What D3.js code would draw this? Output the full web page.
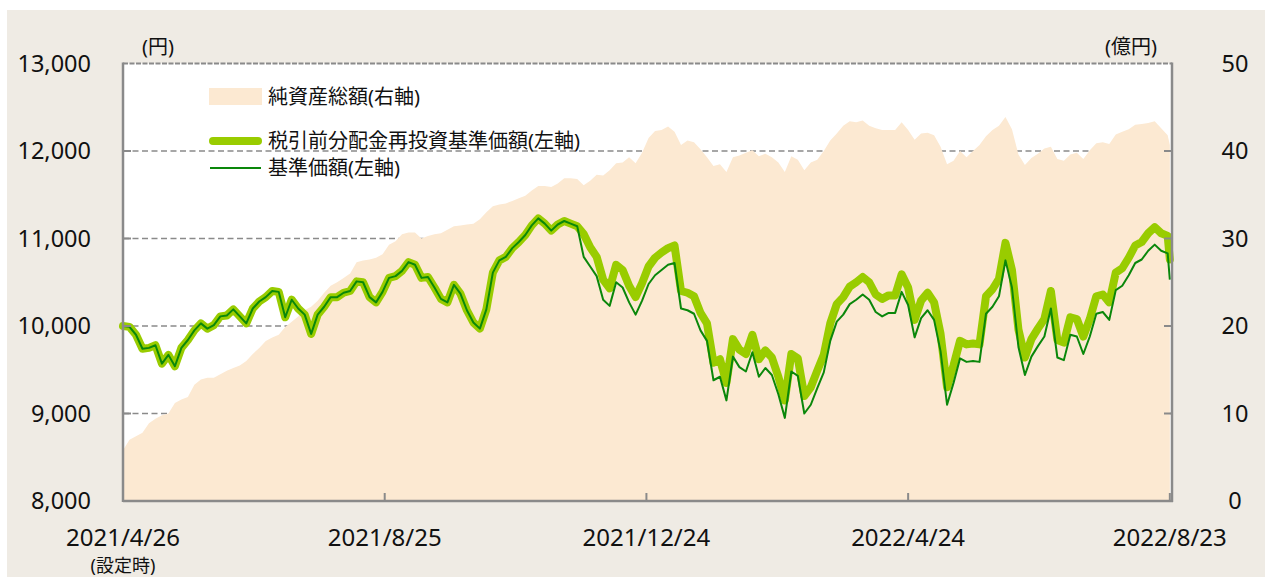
<!DOCTYPE html>
<html><head><meta charset="utf-8">
<script src="https://cdn.jsdelivr.net/npm/d3@7"></script>
<style>
html,body{margin:0;padding:0;background:#fff;}
svg{display:block;font-family:"Noto Sans","Noto Sans CJK JP",sans-serif;}
</style></head>
<body>
<svg id="chart" width="1276" height="577"></svg>
<script>
const dates = [
"2021-04-26","2021-04-29","2021-05-02","2021-05-05","2021-05-08","2021-05-11","2021-05-14","2021-05-17","2021-05-20","2021-05-23","2021-05-26","2021-05-29",
"2021-06-01","2021-06-04","2021-06-07","2021-06-10","2021-06-13","2021-06-16","2021-06-19","2021-06-22","2021-06-25","2021-06-28",
"2021-07-01","2021-07-04","2021-07-07","2021-07-10","2021-07-13","2021-07-16","2021-07-19","2021-07-22","2021-07-25","2021-07-28","2021-07-31",
"2021-08-03","2021-08-06","2021-08-09","2021-08-12","2021-08-15","2021-08-18","2021-08-21","2021-08-24","2021-08-27","2021-08-30",
"2021-09-02","2021-09-05","2021-09-08","2021-09-11","2021-09-14","2021-09-17","2021-09-20","2021-09-23","2021-09-26","2021-09-29",
"2021-10-02","2021-10-05","2021-10-08","2021-10-11","2021-10-14","2021-10-17","2021-10-20","2021-10-23","2021-10-26","2021-10-29",
"2021-11-01","2021-11-04","2021-11-07","2021-11-10","2021-11-13","2021-11-16","2021-11-19","2021-11-22","2021-11-25","2021-11-28",
"2021-12-01","2021-12-04","2021-12-07","2021-12-10","2021-12-13","2021-12-16","2021-12-19","2021-12-22","2021-12-25","2021-12-28","2021-12-31",
"2022-01-03","2022-01-06","2022-01-09","2022-01-12","2022-01-15","2022-01-18","2022-01-21","2022-01-24","2022-01-27","2022-01-30",
"2022-02-02","2022-02-05","2022-02-08","2022-02-11","2022-02-14","2022-02-17","2022-02-20","2022-02-23","2022-02-26",
"2022-03-01","2022-03-04","2022-03-07","2022-03-10","2022-03-13","2022-03-16","2022-03-19","2022-03-22","2022-03-25","2022-03-28","2022-03-31",
"2022-04-03","2022-04-06","2022-04-09","2022-04-12","2022-04-15","2022-04-18","2022-04-21","2022-04-24","2022-04-27","2022-04-30",
"2022-05-03","2022-05-06","2022-05-09","2022-05-12","2022-05-15","2022-05-18","2022-05-21","2022-05-24","2022-05-27","2022-05-30",
"2022-06-02","2022-06-05","2022-06-08","2022-06-11","2022-06-14","2022-06-17","2022-06-20","2022-06-23","2022-06-26","2022-06-29",
"2022-07-02","2022-07-05","2022-07-08","2022-07-11","2022-07-14","2022-07-17","2022-07-20","2022-07-23","2022-07-26","2022-07-29",
"2022-08-01","2022-08-04","2022-08-07","2022-08-10","2022-08-13","2022-08-16","2022-08-19","2022-08-22","2022-08-23"
];

// 基準価額(左軸) 円
const navValues = [
10000,9990,9900,9740,9750,9780,9570,9670,9540,9750,9840,9950,
10030,9970,10010,10110,10120,10190,10110,10030,10200,10280,
10330,10400,10390,10100,10300,10200,10130,9910,10130,10220,10330,
10330,10380,10400,10510,10500,10330,10270,10390,10550,10570,
10630,10730,10700,10550,10560,10440,10310,10270,10470,10370,
10180,10040,9970,10190,10610,10750,10790,10890,10960,11040,
11150,11230,11170,11090,11160,11200,11170,11140,10790,10680,
10570,10300,10230,10500,10440,10270,10130,10290,10480,10580,10640,
10700,10720,10200,10180,10140,9950,9830,9380,9420,9150,
9650,9530,9480,9700,9420,9520,9440,9220,8950,
9480,9430,9000,9100,9290,9470,9830,10050,10130,10250,10300,
10360,10300,10160,10110,10150,10150,10390,10240,9870,10090,
10180,10070,9710,9100,9350,9630,9590,9600,9590,10140,
10220,10340,10750,10440,9760,9440,9650,9770,9880,10200,
9640,9610,9900,9880,9680,9880,10140,10160,10070,10410,
10460,10580,10720,10760,10860,10930,10860,10830,10530
];

// 税引前分配金再投資基準価額(左軸) 円
const reinvestValues = [
10000,9990,9900,9740,9750,9780,9570,9670,9540,9750,9840,9950,
10030,9970,10010,10110,10120,10190,10110,10030,10200,10280,
10330,10400,10390,10100,10300,10200,10130,9910,10130,10220,10330,
10330,10380,10400,10510,10500,10330,10270,10390,10550,10570,
10630,10730,10700,10550,10560,10440,10310,10270,10470,10370,
10180,10040,9970,10190,10610,10750,10790,10890,10960,11040,
11150,11230,11170,11090,11160,11200,11170,11140,11050,10900,
10790,10530,10430,10700,10640,10460,10330,10490,10680,10780,10840,
10890,10920,10400,10380,10340,10150,10030,9580,9620,9350,
9850,9730,9680,9900,9620,9720,9640,9420,9150,
9680,9630,9200,9300,9490,9670,10030,10250,10330,10450,10500,
10560,10500,10360,10310,10350,10350,10590,10440,10070,10290,
10380,10270,9910,9300,9550,9830,9790,9800,9790,10340,
10420,10540,10950,10640,9960,9640,9850,9970,10080,10400,
9840,9810,10100,10080,9880,10080,10340,10360,10270,10610,
10660,10780,10920,10960,11060,11130,11060,11030,10760
];

// 純資産総額(右軸) 億円
const assetValues = [
5.8,7.0,7.4,7.8,8.9,9.4,9.8,10.0,11.2,11.6,11.9,13.3,
13.9,14.1,14.1,14.5,14.9,15.2,15.5,16.0,16.8,17.5,
18.3,18.7,19.0,19.9,20.5,21.1,21.8,22.2,22.9,23.8,24.6,
25.0,25.5,26.0,27.3,27.5,27.6,27.8,28.2,29.3,29.7,
30.5,30.7,30.7,30.0,30.3,30.5,30.6,31.0,31.4,31.5,
31.6,31.7,32.2,33.0,33.7,33.9,34.0,34.3,34.6,34.9,
35.5,36.0,36.0,35.9,36.3,36.9,36.9,36.8,36.1,36.6,
37.3,37.2,37.8,38.6,38.7,39.3,38.6,39.8,41.5,42.3,42.4,
42.8,42.2,40.7,41.2,41.0,40.2,39.3,38.3,38.5,37.6,
39.3,39.5,39.8,40.1,39.4,39.7,39.3,38.7,37.6,
39.4,39.0,37.8,38.7,39.0,40.0,41.2,42.0,42.9,43.4,43.3,
43.5,42.9,42.6,42.4,42.4,42.4,43.3,42.4,41.3,42.0,
42.1,41.8,40.5,38.5,38.9,40.0,39.3,40.0,40.7,41.7,
42.4,42.9,43.9,42.5,39.6,38.4,39.2,39.7,40.3,40.5,
39.1,38.9,39.6,39.8,39.1,40.1,40.9,41.0,40.8,41.9,
42.2,42.5,43.0,43.1,43.2,43.4,42.6,41.8,40.7
];

const leftTicks = [8000, 9000, 10000, 11000, 12000, 13000];
const rightTicks = [0, 10, 20, 30, 40, 50];
const xTickDates = ["2021-04-26", "2021-08-25", "2021-12-24", "2022-04-24", "2022-08-23"];
const xTickLabels = ["2021/4/26", "2021/8/25", "2021/12/24", "2022/4/24", "2022/8/23"];
const legendLabels = ["純資産総額(右軸)", "税引前分配金再投資基準価額(左軸)", "基準価額(左軸)"];

const parse = d3.utcParse("%Y-%m-%d");
const dd = dates.map(parse);

const L = 123, R = 1172, T = 63.5, B = 501;
const x = d3.scaleUtc().domain([parse("2021-04-26"), parse("2022-08-24")]).range([L, R]);
const yL = d3.scaleLinear().domain([8000, 13000]).range([B, T]);
const yR = d3.scaleLinear().domain([0, 50]).range([B, T]);

const svg = d3.select("#chart");
const AREA = "#fce9d2", THICK = "#99cc00", THIN = "#0a870a", AX = "#8a8a8a", TXT = "#111";

svg.append("rect").attr("x", 7).attr("y", 10).attr("width", 1258).attr("height", 567).attr("fill", "#efebe4");
svg.append("rect").attr("x", L).attr("y", T).attr("width", R - L).attr("height", B - T).attr("fill", "#fff");

// gridlines (dashed, behind area)
svg.append("g").selectAll("line").data(leftTicks.slice(1, -1)).join("line")
  .attr("x1", L).attr("x2", R).attr("y1", d => yL(d)).attr("y2", d => yL(d))
  .attr("stroke", AX).attr("stroke-width", 1.6).attr("stroke-dasharray", "6,3.5");

// area
const area = d3.area().x((d, i) => x(dd[i])).y0(yR(0)).y1(d => yR(d));
svg.append("path").datum(assetValues).attr("d", area).attr("fill", AREA);

// lines
const lineL = d3.line().x((d, i) => x(dd[i])).y(d => yL(d));
svg.append("path").datum(reinvestValues).attr("d", lineL).attr("fill", "none")
  .attr("stroke", THICK).attr("stroke-width", 8).attr("stroke-linejoin", "round").attr("stroke-linecap", "round");
svg.append("path").datum(navValues).attr("d", lineL).attr("fill", "none")
  .attr("stroke", THIN).attr("stroke-width", 2).attr("stroke-linejoin", "round");

// frame
svg.append("line").attr("x1", L).attr("x2", R).attr("y1", T).attr("y2", T)
  .attr("stroke", AX).attr("stroke-width", 2).attr("stroke-dasharray", "5,1.5");
svg.append("line").attr("x1", L).attr("x2", L).attr("y1", T - 1).attr("y2", B + 1).attr("stroke", AX).attr("stroke-width", 2.5);
svg.append("line").attr("x1", R).attr("x2", R).attr("y1", T - 1).attr("y2", B + 1).attr("stroke", AX).attr("stroke-width", 2.5);
svg.append("line").attr("x1", L).attr("x2", R + 1).attr("y1", B).attr("y2", B).attr("stroke", AX).attr("stroke-width", 2.5);

// ticks
svg.append("g").selectAll("line").data(xTickDates.slice(1)).join("line")
  .attr("x1", d => x(parse(d))).attr("x2", d => x(parse(d))).attr("y1", B).attr("y2", B - 8)
  .attr("stroke", AX).attr("stroke-width", 2);
svg.append("g").selectAll("line").data(rightTicks.slice(1, -1)).join("line")
  .attr("x1", R).attr("x2", R - 8).attr("y1", d => yR(d)).attr("y2", d => yR(d))
  .attr("stroke", AX).attr("stroke-width", 2);
svg.append("g").selectAll("line").data(leftTicks.slice(1, -1)).join("line")
  .attr("x1", L).attr("x2", L + 8).attr("y1", d => yL(d)).attr("y2", d => yL(d))
  .attr("stroke", AX).attr("stroke-width", 2);

// axis labels
const fmt = d3.format(",");
svg.append("g").selectAll("text").data(leftTicks).join("text")
  .attr("x", 91).attr("y", d => yL(d)).attr("dy", "0.36em").attr("text-anchor", "end")
  .attr("font-size", 23.5).attr("fill", TXT).text(d => fmt(d));
svg.append("g").selectAll("text").data(rightTicks).join("text")
  .attr("x", 1235).attr("y", d => yR(d)).attr("dy", "0.36em").attr("text-anchor", "middle")
  .attr("font-size", 23.5).attr("fill", TXT).text(d => d);
svg.append("g").selectAll("text").data(xTickDates).join("text")
  .attr("x", d => x(parse(d))).attr("y", 546).attr("text-anchor", "middle")
  .attr("font-size", 24).attr("fill", TXT).text((d, i) => xTickLabels[i]);
svg.append("text").attr("x", x(parse(xTickDates[0]))).attr("y", 571.5).attr("text-anchor", "middle")
  .attr("font-size", 18).attr("fill", TXT).text("(設定時)");
svg.append("text").attr("x", 158).attr("y", 54).attr("text-anchor", "middle")
  .attr("font-size", 20).attr("fill", TXT).text("(円)");
svg.append("text").attr("x", 1131).attr("y", 54).attr("text-anchor", "middle")
  .attr("font-size", 20).attr("fill", TXT).text("(億円)");

// legend
const lg = svg.append("g");
lg.append("rect").attr("x", 209).attr("y", 88).attr("width", 53).attr("height", 17).attr("fill", AREA);
lg.append("line").attr("x1", 213).attr("x2", 258).attr("y1", 141).attr("y2", 141)
  .attr("stroke", THICK).attr("stroke-width", 8).attr("stroke-linecap", "round");
lg.append("line").attr("x1", 210).attr("x2", 261).attr("y1", 168).attr("y2", 168)
  .attr("stroke", THIN).attr("stroke-width", 2);
lg.selectAll("text").data(legendLabels).join("text")
  .attr("x", 268).attr("y", (d, i) => [97, 141, 168][i]).attr("dy", "0.36em")
  .attr("font-size", 20).attr("fill", TXT).text(d => d);
</script>
</body></html>
